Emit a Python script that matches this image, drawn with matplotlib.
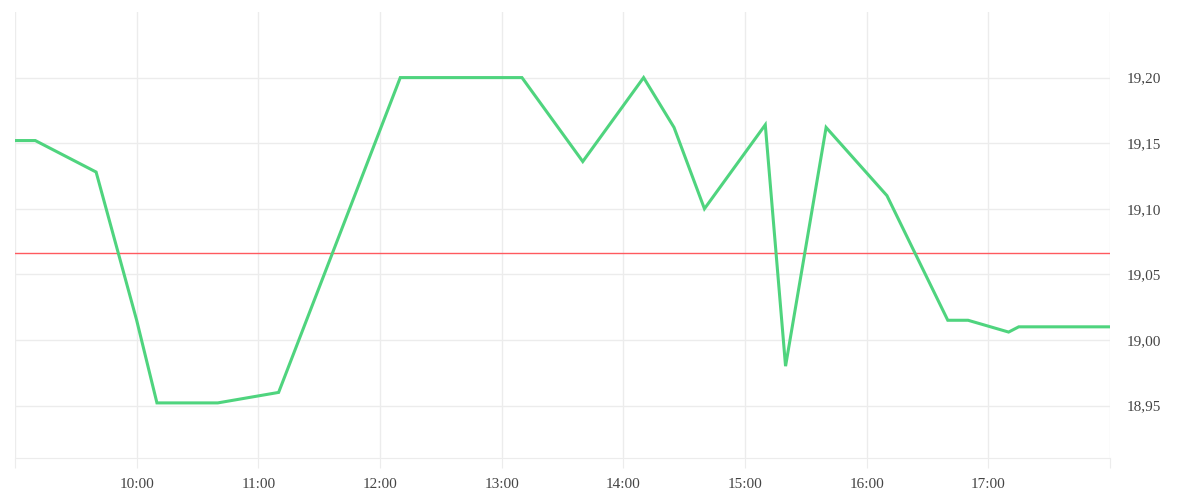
import datetime as dt
import matplotlib
matplotlib.use("Agg")
import matplotlib.pyplot as plt
from matplotlib.ticker import FuncFormatter

times = ["09:00", "09:10", "09:40", "10:00", "10:10", "10:40", "11:10", "12:10",
         "13:10", "13:40", "14:10", "14:25", "14:40", "15:10", "15:20", "15:40",
         "16:10", "16:40", "16:50", "17:10", "17:15", "18:00"]
prices = [19.152, 19.152, 19.128, 19.015, 18.952, 18.952, 18.960, 19.200,
          19.200, 19.136, 19.200, 19.162, 19.100, 19.164, 18.980, 19.162,
          19.110, 19.015, 19.015, 19.006, 19.010, 19.010]
ref_price = 19.066
y_ticks = [18.95, 19.00, 19.05, 19.10, 19.15, 19.20]

day = dt.date(2024, 1, 1)
x = [dt.datetime.combine(day, dt.datetime.strptime(t, "%H:%M").time()) for t in times]

grid_col = "#ececec"
txt_col = "#444444"
fig = plt.figure(figsize=(12, 5), dpi=100)
ax = fig.add_axes([0.0125, 0.084, 0.9125, 0.892])

ax.plot(x, prices, color="#4fd47e", lw=2.2, solid_joinstyle="miter", zorder=3)
ax.axhline(ref_price, color="#ff5a5f", lw=1, zorder=2)

ax.set_xlim(x[0], x[-1])
ax.set_ylim(18.91, 19.25)

hours = [dt.datetime.combine(day, dt.time(h, 0)) for h in range(9, 19)]
ax.set_xticks(hours)
ax.set_xticklabels(["" if h.hour in (9, 18) else h.strftime("%H:%M") for h in hours])
ax.set_yticks(y_ticks)
ax.yaxis.set_major_formatter(FuncFormatter(lambda v, p: f"{v:.2f}".replace(".", ",")))
ax.yaxis.tick_right()

ax.grid(True, color=grid_col, lw=1)
for s in ["top", "left", "right"]:
    ax.spines[s].set_visible(False)
ax.spines["bottom"].set_color(grid_col)
ax.tick_params(axis="x", length=7, color=grid_col, pad=7.5, labelsize=11, labelcolor=txt_col)
ax.tick_params(axis="y", length=0, pad=12, labelsize=11, labelcolor=txt_col)
for lab in ax.get_xticklabels() + ax.get_yticklabels():
    lab.set_family("Liberation Serif")

fig.savefig("out.png", dpi=100)
